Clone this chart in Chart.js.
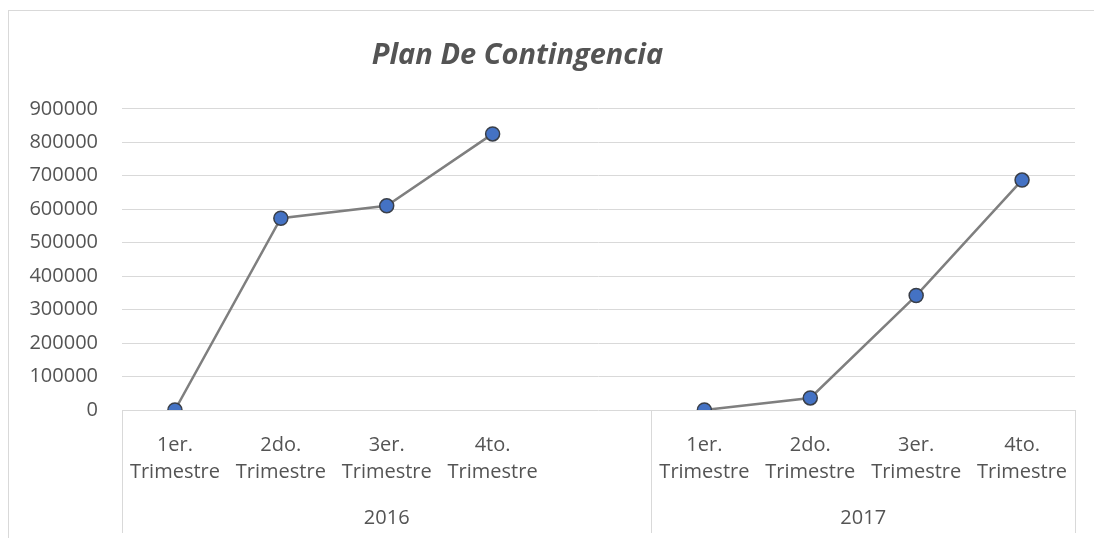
<!DOCTYPE html>
<html>
<head>
<meta charset="utf-8">
<script src="https://cdn.jsdelivr.net/npm/chart.js@4"></script>
<style>
    html, body { margin: 0; padding: 0; background: #fff; overflow: hidden; }
    #wrap { position: relative; width: 1094px; height: 538px; }
    #frame { position: absolute; left: 8px; top: 10px; width: 1200px; height: 600px; border: 1px solid #d9d9d9; box-sizing: border-box; pointer-events: none; }
</style>
</head>
<body>
<div id="wrap">
    <canvas id="contingencyChart"></canvas>
    <div id="frame"></div>
</div>
<script>
const quarters = ['1er.', '2do.', '3er.', '4to.'];
const years = ['2016', '2017'];
const values2016 = [0, 573000, 610000, 825000];
const values2017 = [0, 36000, 342000, 687000];
const yMin = 0;
const yMax = 900000;
const yStep = 100000;

// 2016 group has an extra empty slot after its four quarters
const labels = [];
const values = [];
quarters.forEach((q, i) => { labels.push([q, 'Trimestre']); values.push(values2016[i]); });
labels.push('');
values.push(null);
quarters.forEach((q, i) => { labels.push([q, 'Trimestre']); values.push(values2017[i]); });

const groups = [
    { label: years[0], first: 0, last: 4 },
    { label: years[1], first: 5, last: 8 },
];

const textColor = '#545454';
const gridColor = '#d9d9d9';
const fontFamily = "'Open Sans', sans-serif";

const groupAxis = {
    id: 'groupAxis',
    afterLayout(chart) {
        // title in the original sits a bit left of the plot centre
        const t = chart.titleBlock;
        if (t) { t.left -= 20; t.right -= 20; }
    },
    afterDraw(chart) {
        const ctx = chart.ctx;
        const x = chart.scales.x;
        const area = chart.chartArea;
        const half = (x.getPixelForValue(1) - x.getPixelForValue(0)) / 2;
        ctx.save();
        ctx.strokeStyle = gridColor;
        ctx.lineWidth = 1;
        const edges = [x.getPixelForValue(0) - half];
        groups.forEach(g => edges.push(x.getPixelForValue(g.last) + half));
        edges.forEach(px => {
            const p = Math.round(px) + 0.5;
            ctx.beginPath();
            ctx.moveTo(p, area.bottom);
            ctx.lineTo(p, area.bottom + 123);
            ctx.stroke();
        });
        ctx.fillStyle = textColor;
        ctx.font = '20px ' + fontFamily;
        ctx.textAlign = 'center';
        ctx.textBaseline = 'middle';
        groups.forEach(g => {
            const cx = (x.getPixelForValue(g.first) + x.getPixelForValue(g.last)) / 2;
            ctx.fillText(g.label, cx, area.bottom + 108);
        });
        ctx.restore();
    }
};

const ctx = document.getElementById('contingencyChart').getContext('2d');
new Chart(ctx, {
    type: 'line',
    data: {
        labels: labels,
        datasets: [{
            label: 'Plan De Contingencia',
            data: values,
            borderColor: '#7f7f7f',
            borderWidth: 2.5,
            pointRadius: 7,
            pointBorderWidth: 1.5,
            pointBackgroundColor: '#4472c4',
            pointBorderColor: '#3a3f48',
            spanGaps: false,
            tension: 0,
        }],
    },
    options: {
        responsive: true,
        maintainAspectRatio: false,
        animation: false,
        layout: { padding: { left: 0, right: 19, top: 0, bottom: 0 } },
        plugins: {
            legend: { display: false },
            tooltip: { enabled: false },
            title: {
                display: true,
                text: 'Plan De Contingencia',
                color: textColor,
                font: { family: fontFamily, size: 29, style: 'italic', weight: 'bold', lineHeight: 1.2 },
                padding: { top: 38, bottom: 36 },
            },
        },
        scales: {
            x: {
                offset: true,
                grid: { display: false, drawTicks: false },
                border: { display: false },
                ticks: {
                    color: textColor,
                    font: { family: fontFamily, size: 20, lineHeight: 1.35 },
                    padding: 22,
                    autoSkip: false,
                    maxRotation: 0,
                },
                afterFit(scale) { scale.height = 128; },
            },
            y: {
                min: yMin,
                max: yMax,
                grid: { color: gridColor, lineWidth: 1, drawTicks: false },
                border: { display: false },
                ticks: {
                    stepSize: yStep,
                    color: textColor,
                    font: { family: fontFamily, size: 20 },
                    padding: 24,
                    callback: v => String(v),
                },
                afterFit(scale) { scale.width = 122; },
            },
        },
    },
    plugins: [groupAxis],
});
</script>
</body>
</html>
